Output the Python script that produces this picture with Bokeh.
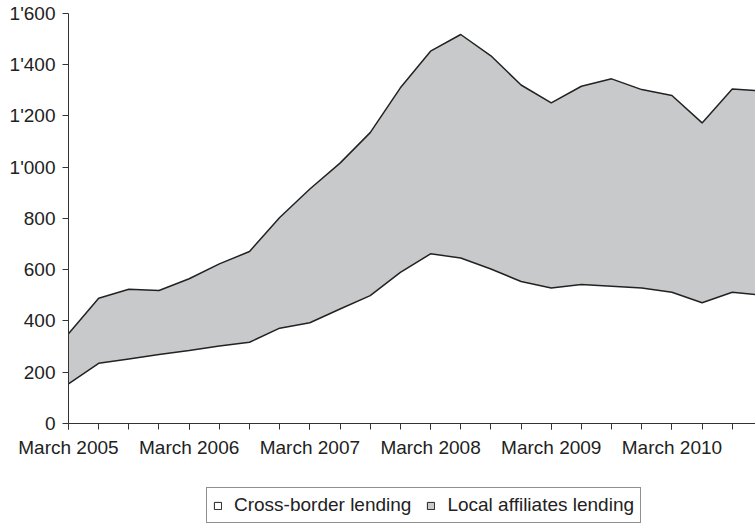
from bokeh.plotting import figure
from bokeh.models import FixedTicker, Legend, LegendItem, ColumnDataSource
from bokeh.embed import file_html
from bokeh.resources import INLINE

quarters = []
for yr in range(2005, 2011):
    for m in ["March", "June", "September", "December"]:
        quarters.append(f"{m} {yr}")

cross_border = [155, 235, 252, 269, 285, 302, 317, 372, 393, 447, 499, 590,
                662, 646, 603, 554, 529, 542, 536, 529, 512, 471, 512, 500]
local_affiliates = [195, 254, 272, 250, 280, 321, 354, 432, 522, 569, 636, 720,
                    791, 872, 832, 767, 722, 774, 809, 774, 768, 702, 793, 798]

y_ticks = [0, 200, 400, 600, 800, 1000, 1200, 1400, 1600]
y_tick_labels = ["0", "200", "400", "600", "800", "1'000", "1'200", "1'400", "1'600"]

FONT = "Liberation Sans"
TXT = "#222222"
GRAY = "#c8c9cb"
LINE = "#222222"

x = list(range(len(quarters)))
stack_top = [c + l for c, l in zip(cross_border, local_affiliates)]
zeros = [0] * len(x)
src = ColumnDataSource(dict(x=x, zero=zeros, cb=cross_border, top=stack_top))

# the frame fills the whole figure; both axes are drawn at fixed data locations
p = figure(width=755, height=526, output_backend="svg", toolbar_location=None,
           x_range=(-2.253, 22.77), y_range=(-402, 1650.7),
           min_border_left=0, min_border_right=0, min_border_top=0, min_border_bottom=0)
p.xgrid.visible = False
p.ygrid.visible = False
p.outline_line_color = None
p.background_fill_color = "white"
p.border_fill_color = "white"

p.varea(x="x", y1="zero", y2="cb", source=src, fill_color="white")
p.varea(x="x", y1="cb", y2="top", source=src, fill_color=GRAY)
p.line(x="x", y="cb", source=src, line_color=LINE, line_width=1.5)
p.line(x="x", y="top", source=src, line_color=LINE, line_width=1.5)

# legend proxies (off-screen)
r1 = p.quad(left=[-20], right=[-19], bottom=[-2000], top=[-1999], fill_color="white",
            line_color=LINE, line_width=1)
r2 = p.quad(left=[-20], right=[-19], bottom=[-2000], top=[-1999], fill_color=GRAY,
            line_color=LINE, line_width=1)

majors = [i for i, q in enumerate(quarters) if q.startswith("March")]
p.xaxis.ticker = FixedTicker(ticks=majors, minor_ticks=x)
p.xaxis.major_label_overrides = {i: quarters[i] for i in majors}
p.xaxis.fixed_location = 0
p.xaxis.bounds = (0, 22.77)
p.yaxis.ticker = FixedTicker(ticks=y_ticks)
p.yaxis.major_label_overrides = {v: s for v, s in zip(y_ticks, y_tick_labels)}
p.yaxis.bounds = (0, 1600)
p.yaxis.fixed_location = 0

for ax in (p.xaxis, p.yaxis):
    ax.axis_line_color = "#333333"
    ax.axis_line_width = 1
    ax.major_tick_line_color = "#333333"
    ax.minor_tick_line_color = "#333333"
    ax.major_tick_in = 0
    ax.major_tick_out = 6
    ax.minor_tick_in = 0
    ax.minor_tick_out = 6
    ax.major_label_text_font = FONT
    ax.major_label_text_font_size = "19px"
    ax.major_label_text_color = TXT
p.yaxis.minor_tick_line_color = None
p.yaxis.major_label_standoff = 7
p.xaxis.major_label_standoff = 8

legend = Legend(items=[LegendItem(label="Cross-border lending", renderers=[r1]),
                       LegendItem(label="Local affiliates lending", renderers=[r2])],
                orientation="horizontal", location=(206, 3),
                border_line_color="#222222", border_line_width=1,
                label_text_font=FONT, label_text_font_size="19px", label_text_color=TXT,
                glyph_width=9, glyph_height=9, padding=6, spacing=15,
                label_standoff=12, margin=0, background_fill_alpha=1)
p.add_layout(legend, "center")

open("out.html", "w").write(file_html(p, INLINE))
